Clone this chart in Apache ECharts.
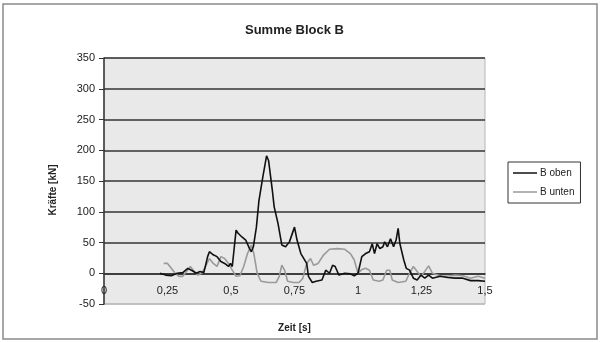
<!DOCTYPE html>
<html>
<head>
<meta charset="utf-8">
<script src="https://cdn.jsdelivr.net/npm/echarts@6/dist/echarts.min.js"></script>
<style>html,body{margin:0;padding:0;background:#fff}#c{width:601px;height:342px}</style>
</head>
<body>
<div id="c"></div>
<script>
var titleText = 'Summe Block B';
var xName = 'Zeit [s]';
var yName = 'Kräfte [kN]';
var seriesNames = ['B oben', 'B unten'];

var tOben = [0.22,0.243,0.265,0.288,0.31,0.33,0.348,0.363,0.378,0.393,0.408,0.415,0.43,0.445,0.46,0.475,0.49,0.498,0.505,0.52,0.528,0.543,0.558,0.573,0.58,0.588,0.6,0.61,0.625,0.64,0.648,0.663,0.67,0.685,0.7,0.715,0.73,0.75,0.76,0.775,0.798,0.805,0.82,0.835,0.858,0.873,0.888,0.9,0.91,0.925,0.948,0.97,0.985,1.0,1.015,1.03,1.045,1.056,1.065,1.075,1.086,1.098,1.105,1.116,1.128,1.14,1.15,1.158,1.165,1.18,1.19,1.203,1.218,1.233,1.248,1.263,1.278,1.293,1.323,1.353,1.383,1.413,1.443,1.473,1.5];
var vOben = [0,-3,-4,0,1,8,4,0,3,1,27,35,30,27,19,16,11,16,11,70,65,59,54,40,35,43,75,118,156,191,183,134,108,81,46,43,51,75,54,32,16,-5,-15,-13,-11,5,0,13,11,-3,0,-1,-4,0,27,32,35,48,32,48,40,43,51,43,56,43,54,73,48,22,8,5,-8,-11,-3,-8,-3,-8,-5,-7,-8,-8,-12,-12,-13];

var tUnten = [0.235,0.25,0.265,0.28,0.295,0.31,0.325,0.34,0.355,0.37,0.385,0.4,0.415,0.43,0.445,0.46,0.475,0.49,0.505,0.52,0.535,0.55,0.565,0.58,0.59,0.603,0.618,0.648,0.678,0.69,0.7,0.711,0.723,0.745,0.768,0.783,0.798,0.813,0.825,0.843,0.865,0.888,0.918,0.948,0.97,0.985,1.0,1.015,1.03,1.045,1.06,1.083,1.098,1.113,1.125,1.135,1.158,1.188,1.203,1.218,1.233,1.248,1.263,1.278,1.293,1.323,1.353,1.383,1.413,1.443,1.473,1.5];
var vUnten = [16,16,8,0,-5,-5,3,11,3,-3,0,11,24,16,11,27,24,16,5,-5,-4,11,32,46,32,0,-13,-15,-15,-5,13,5,-13,-15,-15,-8,16,24,13,16,30,39,40,39,32,22,0,6,8,5,-11,-13,-11,5,5,-11,-15,-13,0,11,3,-5,3,12,0,-4,-5,-3,-4,-8,-5,-8];

var yMin = -50, yMax = 350, yStep = 50;
var xMin = 0, xMax = 1.5, xStep = 0.25;

function pairs(t, v) { return t.map(function (x, i) { return [x, v[i]]; }); }

var chart = echarts.init(document.getElementById('c'), null, {renderer: 'canvas'});
var font = 'Liberation Sans, Arial, sans-serif';
chart.setOption({
  animation: false,
  backgroundColor: '#ffffff',
  textStyle: {fontFamily: font},
  graphic: [{
    type: 'rect', silent: true, z: -10,
    shape: {x: 3, y: 4, width: 594, height: 335},
    style: {fill: 'none', stroke: '#8a8a8a', lineWidth: 1.5}
  }],
  title: {
    text: titleText, left: 240, top: 19,
    textStyle: {fontSize: 13, fontWeight: 'bold', color: '#222', fontFamily: font}
  },
  legend: {
    orient: 'vertical', left: 508, top: 162,
    padding: [6, 6, 6, 5], itemGap: 9,
    icon: 'rect', itemWidth: 24, itemHeight: 1.5,
    borderColor: '#333', borderWidth: 1, backgroundColor: '#fff',
    textStyle: {fontSize: 10, color: '#222', fontFamily: font, padding: [0, 0, 0, -2]},
    data: seriesNames
  },
  grid: {
    left: 104, right: 116, top: 58, bottom: 38,
    outerBoundsMode: 'none', containLabel: false,
    show: true, backgroundColor: '#e9e9e9', borderColor: '#b5b5b5', borderWidth: 1
  },
  xAxis: {
    type: 'value', min: xMin, max: xMax, interval: xStep,
    name: xName, nameLocation: 'middle', nameGap: 50,
    nameTextStyle: {fontSize: 10, fontWeight: 'bold', color: '#222'},
    axisLine: {onZero: false, lineStyle: {color: '#333', width: 1.5}},
    axisTick: {show: false},
    splitLine: {show: false},
    axisLabel: {fontSize: 11, color: '#222', margin: 12,
      formatter: function (v) { return String(v).replace('.', ','); }}
  },
  yAxis: {
    type: 'value', min: yMin, max: yMax, interval: yStep,
    name: yName, nameLocation: 'middle', nameGap: 46,
    nameTextStyle: {fontSize: 10, fontWeight: 'bold', color: '#222', padding: [0, 18, 0, 0]},
    axisLine: {show: true, onZero: false, lineStyle: {color: '#333', width: 1.5}},
    axisTick: {show: true, length: 5, lineStyle: {color: '#333'}},
    axisLabel: {fontSize: 11, color: '#222', margin: 9},
    splitLine: {show: true, lineStyle: {color: ['#bbbbbb', '#333', '#333', '#333', '#333', '#333', '#333', '#333', '#333'], width: 1.5}}
  },
  series: [
    {name: seriesNames[0], type: 'line', data: pairs(tOben, vOben), symbol: 'none',
      lineStyle: {color: '#111', width: 1.6}, itemStyle: {color: '#111'}, z: 3},
    {name: seriesNames[1], type: 'line', data: pairs(tUnten, vUnten), symbol: 'none',
      lineStyle: {color: '#9a9a9a', width: 1.6}, itemStyle: {color: '#9a9a9a'}, z: 2}
  ]
});
// move the x axis (line, labels, name) up to the zero line
var yZero = chart.convertToPixel({yAxisIndex: 0}, 0);
var yBottom = chart.convertToPixel({yAxisIndex: 0}, yMin);
chart.setOption({xAxis: {offset: yZero - yBottom}});
</script>
</body>
</html>
